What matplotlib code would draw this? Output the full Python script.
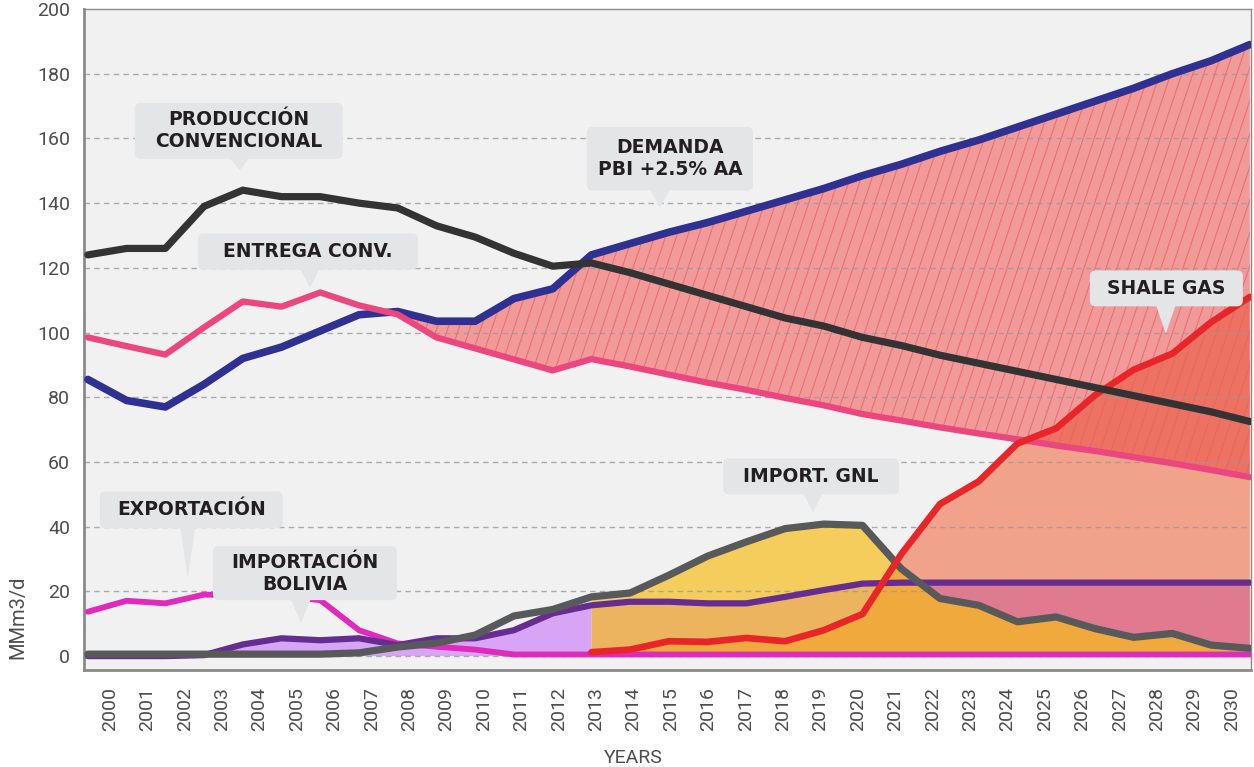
import numpy as np
import matplotlib
matplotlib.use("Agg")
import matplotlib.pyplot as plt
from matplotlib.patches import FancyBboxPatch, Polygon
from matplotlib.collections import LineCollection
from matplotlib.path import Path

# data (MMm3/d)
years = np.arange(2000, 2031)
produccion = [124, 126, 126, 139, 144, 142, 142, 140, 138.5, 133, 129.5, 124.5, 120.5, 121.5,
              118.5, 115, 111.5, 108, 104.5, 102, 98.5, 96, 93, 90.5, 88, 85.5, 83, 80.5, 78, 75.5, 72.5]
demanda = [85.5, 79, 77, 84, 92, 95.5, 100.5, 105.5, 106.5, 103.5, 103.5, 110.5, 113.5, 124,
           127.5, 131, 134, 137.5, 141, 144.5, 148.5, 152, 156, 159.5, 163.5, 167.5, 171.5, 175.5, 180, 184, 189]
entrega = [98.5, 95.8, 93.2, 101.6, 109.6, 108, 112.4, 108.4, 105.6, 98.5, 95.1, 91.7, 88.3, 91.8,
           89.5, 87, 84.5, 82.3, 79.8, 77.5, 74.8, 72.8, 70.7, 68.8, 67, 65.1, 63.4, 61.5, 59.6, 57.5, 55.3]
exportacion = [13.7, 17.1, 16.3, 19, 18.8, 18.5, 17.3, 8, 3.9, 2.9, 2, 0.5, 0.5, 0.5, 0.5, 0.5,
               0.5, 0.5, 0.5, 0.5, 0.5, 0.5, 0.5, 0.5, 0.5, 0.5, 0.5, 0.5, 0.5, 0.5, 0.5]
bolivia = [0, 0, 0, 0.3, 3.6, 5.5, 4.9, 5.5, 3.4, 5.5, 5.5, 8, 13.2, 15.7, 16.8, 16.8, 16.3, 16.3,
           18.3, 20.4, 22.4, 22.7, 22.7, 22.7, 22.7, 22.7, 22.7, 22.7, 22.7, 22.7, 22.7]
gnl = [0.6, 0.6, 0.6, 0.6, 0.6, 0.6, 0.6, 1, 2.8, 4, 6.5, 12.4, 14.4, 18.3, 19.5, 25, 30.9, 35.3,
       39.4, 40.8, 40.4, 27, 17.8, 15.7, 10.6, 12.1, 8.5, 5.8, 7, 3.4, 2.4]
shale_years = np.arange(2013, 2031)
shale = [1.2, 2, 4.6, 4.4, 5.6, 4.6, 8, 13, 31.5, 47, 54, 65.7, 70.4, 80.6, 88.5, 93.5, 103.2, 111]

# colors
c_bg = "#f1f1f1"
c_prod = "#333333"
c_dem = "#2e3192"
c_ent = "#ec4680"
c_exp = "#de2bbd"
c_bol = "#662d91"
c_gnl = "#58595b"
c_shale = "#e8262a"

fig = plt.figure(figsize=(12.54, 7.67), dpi=100)
ax = fig.add_axes([84 / 1254, 1 - 670 / 767, 1167 / 1254, 661 / 767])
ax.set_facecolor(c_bg)
ax.set_xlim(1999.9, 2030.03)
ax.set_ylim(-4.3, 199.8)

dem = np.array(demanda, float)
ent = np.array(entrega, float)
bol = np.array(bolivia, float)
gas = np.array(gnl, float)
post = years >= 2013


def region(poly):
    return Path.make_compound_path(*poly.get_paths())


# hatched area between delivery and demand
hatch_poly = ax.fill_between(years, ent, dem, where=dem >= ent, interpolate=True,
                             facecolor="#f29a9a", lw=0, zorder=1)
hatch_path = region(hatch_poly)

# shale gas
s_poly = ax.fill_between(shale_years, 0, shale, facecolor="#f1a28b", lw=0, zorder=1.1)
s_path = region(s_poly)
dark = ax.fill_between(shale_years, 0, shale, facecolor="#ee7262", lw=0, zorder=1.15)
dark.set_clip_path(hatch_path, ax.transData)
sb = ax.fill_between(years[post], 0, bol[post], facecolor="#e07b8f", lw=0, zorder=1.2)
sb.set_clip_path(s_path, ax.transData)

# GNL import
g_poly = ax.fill_between(years[post], 0, gas[post], facecolor="#f5cd5c", lw=0, zorder=1.3)
g_path = region(g_poly)
gb = ax.fill_between(years[post], 0, bol[post], facecolor="#edb45f", lw=0, zorder=1.4)
gb.set_clip_path(g_path, ax.transData)
gs = ax.fill_between(years[post], 0, gas[post], facecolor="#f0a93d", lw=0, zorder=1.5)
gs.set_clip_path(s_path, ax.transData)

# Bolivia before 2013
ax.fill_between(years[years <= 2013], 0, bol[years <= 2013], facecolor="#d8a4f5", lw=0, zorder=1.5)

# steep hatch lines, built in pixel space
p0 = ax.transData.transform((2000, 0))
p1 = ax.transData.transform((2001, 1))
sx, sy = p1[0] - p0[0], p1[1] - p0[1]
slope = 3.0 * sx / sy
segs = []
for x0 in np.arange(1990, 2032, 11 / sx):
    segs.append([(x0 - 10 / slope, -10), (x0 + 210 / slope, 210)])
lc = LineCollection(segs, colors="#e46464", linewidths=0.8, alpha=0.75, zorder=1.6)
ax.add_collection(lc)
lc.set_clip_path(hatch_path, ax.transData)

# grid
for v in range(0, 200, 20):
    ax.axhline(v, color="#9a9a9a", lw=1, ls=(0, (4, 3)), alpha=0.8, zorder=2)

# lines
kw = dict(solid_capstyle="round", solid_joinstyle="round")
ax.plot(years, exportacion, color=c_exp, lw=4.2, zorder=3, **kw)
ax.plot(years, bolivia, color=c_bol, lw=4.5, zorder=3.1, **kw)
ax.plot(years, gnl, color=c_gnl, lw=5.2, zorder=3.2, **kw)
ax.plot(years, demanda, color=c_dem, lw=5.5, zorder=3.3, **kw)
ax.plot(years, entrega, color=c_ent, lw=4.5, zorder=3.4, **kw)
ax.plot(shale_years, shale, color=c_shale, lw=4.8, zorder=3.5, **kw)
ax.plot(years, produccion, color=c_prod, lw=5.2, zorder=3.6, **kw)

# axes styling
for side in ["top", "right"]:
    ax.spines[side].set_color("#8a8a8a")
    ax.spines[side].set_linewidth(1)
for side in ["left", "bottom"]:
    ax.spines[side].set_color("#8a8a8a")
    ax.spines[side].set_linewidth(2)

ax.set_yticks(range(0, 201, 20))
ax.set_xticks(np.linspace(2000.57, 2029.54, 31))
ax.set_xticklabels([str(y) for y in years], rotation=90)
ax.tick_params(length=0, colors="#4d4d4d", labelsize=14)
ax.tick_params(axis="x", pad=12)
ax.tick_params(axis="y", pad=10)
for lab in ax.get_xticklabels() + ax.get_yticklabels():
    lab.set_fontfamily("Roboto")

fig.text(633 / 1254, 1 - 758 / 767, "YEARS", ha="center", va="center",
         fontsize=14, color="#4d4d4d", family="Roboto")
fig.text(18 / 1254, 1 - 617 / 767, "MMm3/d", ha="center", va="center", rotation=90,
         fontsize=14.5, color="#4d4d4d", family="Roboto")


def callout(text, x0, x1, y0, y1, tx, ty, hw=0.25):
    box = FancyBboxPatch((x0, y0), x1 - x0, y1 - y0,
                         boxstyle="round,pad=0,rounding_size=0.15", mutation_aspect=11.9,
                         facecolor="#e4e5e7", edgecolor="none", zorder=5)
    ax.add_patch(box)
    tri = Polygon([(tx - hw, y0 + 0.2), (tx + hw, y0 + 0.2), (tx, ty)], closed=True,
                  facecolor="#e4e5e7", edgecolor="none", zorder=5)
    ax.add_patch(tri)
    ax.text((x0 + x1) / 2, (y0 + y1) / 2, text, ha="center", va="center", zorder=6,
            fontsize=13.5, fontweight="bold", color="#231f20", family="DejaVu Sans",
            linespacing=1.2)


callout("PRODUCCIÓN\nCONVENCIONAL", 2001.21, 2006.58, 153.7, 171.0, 2003.92, 150.2)
callout("DEMANDA\nPBI +2.5% AA", 2012.88, 2017.17, 143.9, 163.6, 2014.77, 138.6)
callout("ENTREGA CONV.", 2002.84, 2008.52, 119.5, 130.6, 2005.73, 113.9)
callout("SHALE GAS", 2025.87, 2029.82, 108.1, 119.2, 2027.83, 99.7)
callout("EXPORTACIÓN", 2000.31, 2005.03, 39.5, 50.9, 2002.58, 24.1, hw=0.19)
callout("IMPORTACIÓN\nBOLIVIA", 2003.23, 2007.98, 17.3, 34.0, 2005.5, 10.2)
callout("IMPORT. GNL", 2016.40, 2020.94, 50.0, 61.1, 2018.72, 44.5)

fig.savefig("out.png", dpi=100, facecolor="white")
